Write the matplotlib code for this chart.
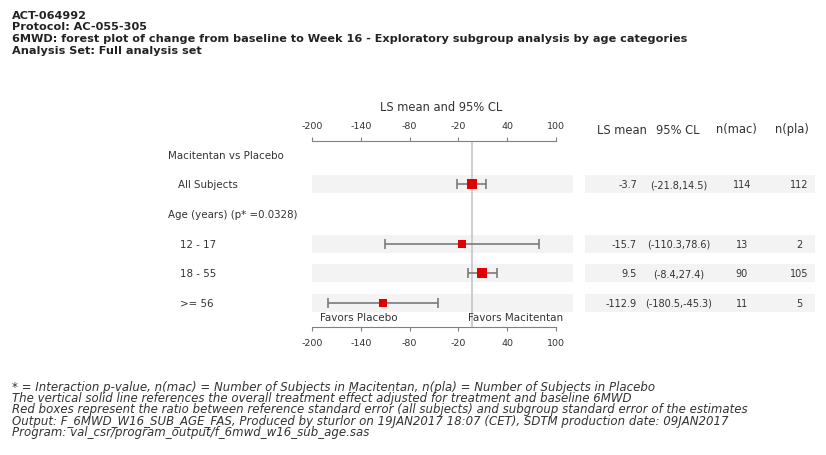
import numpy as np
import matplotlib
matplotlib.use("Agg")
from matplotlib import pyplot as plt
from matplotlib.patches import Rectangle
from matplotlib.transforms import blended_transform_factory

# data
header_lines = ["ACT-064992",
                "Protocol: AC-055-305",
                "6MWD: forest plot of change from baseline to Week 16 - Exploratory subgroup analysis by age categories",
                "Analysis Set: Full analysis set"]
row_labels = ["Macitentan vs Placebo", "All Subjects", "Age (years) (p* =0.0328)",
              "12 - 17", "18 - 55", ">= 56"]
data_rows = [1, 3, 4, 5]
ls_mean = [-3.7, -15.7, 9.5, -112.9]
ci_low = [-21.8, -110.3, -8.4, -180.5]
ci_high = [14.5, 78.6, 27.4, -45.3]
ci_text = ["(-21.8,14.5)", "(-110.3,78.6)", "(-8.4,27.4)", "(-180.5,-45.3)"]
n_mac = [114, 13, 90, 11]
n_pla = [112, 2, 105, 5]
se_ratio = [1.0, 0.19, 1.01, 0.27]
overall = -3.7
xticks = [-200, -140, -80, -20, 40, 100]
col_heads = ["LS mean", "95% CL", "n(mac)", "n(pla)"]
footnotes = ["* = Interaction p-value, n(mac) = Number of Subjects in Macitentan, n(pla) = Number of Subjects in Placebo",
             "The vertical solid line references the overall treatment effect adjusted for treatment and baseline 6MWD",
             "Red boxes represent the ratio between reference standard error (all subjects) and subgroup standard error of the estimates",
             "Output: F_6MWD_W16_SUB_AGE_FAS, Produced by sturlor on 19JAN2017 18:07 (CET), SDTM production date: 09JAN2017",
             "Program: val_csr/program_output/f_6mwd_w16_sub_age.sas"]

W, H = 826, 456
fig = plt.figure(figsize=(W / 100, H / 100), dpi=100)
fx = lambda px: px / W
fy = lambda py: 1 - py / H

txt = "#333333"
grey = "#808080"

ax = fig.add_axes([fx(312), fy(328.3), fx(556) - fx(312), fy(141.7) - fy(328.3)])
ax.set_xlim(-200, 100)
ax.set_ylim(5.82, -0.47)
for s in ["left", "right"]:
    ax.spines[s].set_visible(False)
for s in ["top", "bottom"]:
    ax.spines[s].set_color(grey)
    ax.spines[s].set_linewidth(0.8)
ax.set_yticks([])
ax.set_xticks(xticks)
ax.set_xticklabels([str(t) for t in xticks])
ax.tick_params(axis="x", top=True, labeltop=True, bottom=True, labelbottom=True,
               colors=grey, labelcolor=txt, labelsize=6.8, length=3, width=0.8, pad=5)

# row bands
tr = blended_transform_factory(fig.transFigure, ax.transData)
for r in data_rows:
    fig.add_artist(Rectangle((fx(312), r - 0.3), fx(573) - fx(312), 0.6, transform=tr,
                             facecolor="#f3f3f3", edgecolor="none", zorder=0))
    fig.add_artist(Rectangle((fx(585), r - 0.3), fx(815) - fx(585), 0.6, transform=tr,
                             facecolor="#f3f3f3", edgecolor="none", zorder=0))
ax.patch.set_alpha(0)

ax.axvline(overall, color="#cacaca", lw=1.3, zorder=1)

for i, r in enumerate(data_rows):
    ax.errorbar(ls_mean[i], r, xerr=[[ls_mean[i] - ci_low[i]], [ci_high[i] - ls_mean[i]]],
                fmt="none", ecolor="#7a7a7a", elinewidth=1.2, capsize=3.5, capthick=1.2, zorder=2)
    ax.plot(ls_mean[i], r, marker="s", color="#e00000", markersize=4.5 + 3 * se_ratio[i],
            markeredgewidth=0, zorder=3)

# row labels
for r, lab in enumerate(row_labels):
    x = 168 if r in (0, 2) else (178 if r == 1 else 180)
    fig.text(fx(x), r, lab, transform=tr, ha="left", va="center", fontsize=7.4, color=txt)

# table
col_x = [637, 679, 742, 799]
for c, h in zip([622, 678, 736, 792], col_heads):
    fig.text(fx(c), fy(130), h, ha="center", va="center", fontsize=8.3, color=txt)
for i, r in enumerate(data_rows):
    fig.text(fx(col_x[0]), r, f"{ls_mean[i]:.1f}", transform=tr, ha="right", va="center", fontsize=7, color=txt)
    fig.text(fx(col_x[1]), r, ci_text[i], transform=tr, ha="center", va="center", fontsize=7, color=txt)
    fig.text(fx(col_x[2]), r, str(n_mac[i]), transform=tr, ha="center", va="center", fontsize=7, color=txt)
    fig.text(fx(col_x[3]), r, str(n_pla[i]), transform=tr, ha="center", va="center", fontsize=7, color=txt)

fig.text(fx(441), fy(108), "LS mean and 95% CL", ha="center", va="center", fontsize=8.3, color=txt)
fig.text(fx(320), fy(318), "Favors Placebo", ha="left", va="center", fontsize=7.5, color=txt)
fig.text(fx(468), fy(318), "Favors Macitentan", ha="left", va="center", fontsize=7.5, color=txt)

for k, line in enumerate(header_lines):
    fig.text(fx(12), fy(16 + 11.5 * k), line, ha="left", va="center", fontsize=8.1,
             fontweight="bold", color="#222222")
for k, line in enumerate(footnotes):
    fig.text(fx(12), fy(387 + 11.5 * k), line, ha="left", va="center", fontsize=8.5,
             style="italic", color=txt)

fig.savefig("out.png", dpi=100)
